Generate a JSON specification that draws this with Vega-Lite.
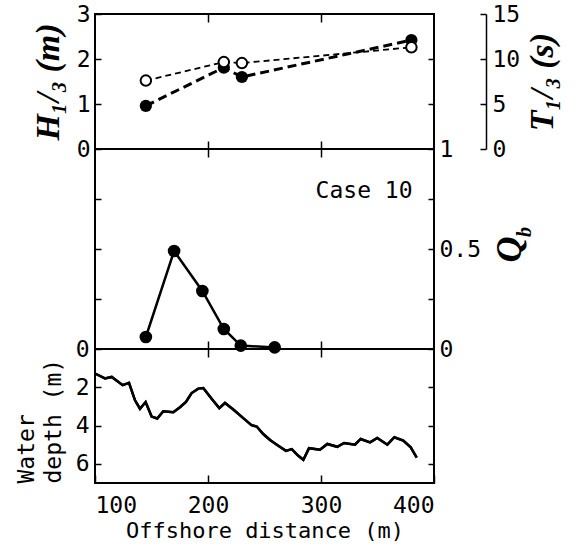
{
  "$schema": "https://vega.github.io/schema/vega-lite/v6.json",
  "background": "white",
  "padding": {"left": 14, "top": 2, "right": 5, "bottom": 5},
  "spacing": 0,
  "bounds": "flush",
  "datasets": {
    "waves": [
      {"distance": 145, "H": 0.96, "T": 7.6},
      {"distance": 214, "H": 1.81, "T": 9.66},
      {"distance": 230, "H": 1.6, "T": 9.55},
      {"distance": 380, "H": 2.42, "T": 11.3}
    ],
    "breaking": [
      {"distance": 145, "Qb": 0.06},
      {"distance": 170, "Qb": 0.49},
      {"distance": 195, "Qb": 0.29},
      {"distance": 214, "Qb": 0.1},
      {"distance": 229, "Qb": 0.017},
      {"distance": 259, "Qb": 0.008}
    ],
    "profile": [
      {"distance": 100, "depth": 1.28},
      {"distance": 108.8, "depth": 1.54},
      {"distance": 114.8, "depth": 1.46},
      {"distance": 124.5, "depth": 1.89},
      {"distance": 130.1, "depth": 1.77},
      {"distance": 135.4, "depth": 2.68},
      {"distance": 139.8, "depth": 3.12},
      {"distance": 144.8, "depth": 2.77},
      {"distance": 150.1, "depth": 3.53},
      {"distance": 155.1, "depth": 3.63},
      {"distance": 160.4, "depth": 3.25},
      {"distance": 169.3, "depth": 3.3},
      {"distance": 175.2, "depth": 3.04},
      {"distance": 180.5, "depth": 2.77},
      {"distance": 185.5, "depth": 2.3},
      {"distance": 191.4, "depth": 2.07},
      {"distance": 195.8, "depth": 2.04},
      {"distance": 203.2, "depth": 2.6},
      {"distance": 210.0, "depth": 3.09},
      {"distance": 215.0, "depth": 2.82},
      {"distance": 222.4, "depth": 3.16},
      {"distance": 231.2, "depth": 3.61},
      {"distance": 238.5, "depth": 3.98},
      {"distance": 243.1, "depth": 4.05},
      {"distance": 248.9, "depth": 4.44},
      {"distance": 254.9, "depth": 4.75},
      {"distance": 262.2, "depth": 5.05},
      {"distance": 269.0, "depth": 5.32},
      {"distance": 274.1, "depth": 5.23},
      {"distance": 279.9, "depth": 5.58},
      {"distance": 284.4, "depth": 5.79},
      {"distance": 289.4, "depth": 5.18},
      {"distance": 299.1, "depth": 5.26},
      {"distance": 305.6, "depth": 4.96},
      {"distance": 314.4, "depth": 5.11},
      {"distance": 320.4, "depth": 4.91},
      {"distance": 330.1, "depth": 5.0},
      {"distance": 335.1, "depth": 4.7},
      {"distance": 343.4, "depth": 4.88},
      {"distance": 349.8, "depth": 4.65},
      {"distance": 358.7, "depth": 5.0},
      {"distance": 364.9, "depth": 4.61},
      {"distance": 372.8, "depth": 4.79},
      {"distance": 379.4, "depth": 5.14},
      {"distance": 384.7, "depth": 5.67}
    ]
  },
  "config": {
    "view": {"stroke": "black", "strokeWidth": 2},
    "axis": {
      "domain": false,
      "grid": false,
      "labelFont": "DejaVu Sans Mono",
      "labelFontSize": 23,
      "labelColor": "black",
      "labelPadding": 12,
      "tickColor": "black",
      "tickWidth": 1.5,
      "titleFont": "DejaVu Sans Mono",
      "titleFontSize": 22,
      "titleFontWeight": "normal",
      "titleColor": "black"
    }
  },
  "vconcat": [
    {
      "width": 339,
      "height": 135,
      "data": {"name": "waves"},
      "resolve": {"scale": {"y": "independent"}, "axis": {"x": "independent", "y": "independent"}},
      "layer": [
        {
          "mark": {"type": "line", "color": "black", "strokeWidth": 3, "strokeDash": [9, 5]},
          "encoding": {
            "x": {"field": "distance", "type": "quantitative", "scale": {"domain": [100, 400]},
                  "axis": {"orient": "bottom", "values": [200, 300], "labels": false, "tickSize": -8, "title": null}},
            "y": {"field": "H", "type": "quantitative", "scale": {"domain": [0, 3]},
                  "axis": {"orient": "left", "values": [0, 1, 2, 3], "tickSize": -6, "labelPadding": 11,
                           "title": "H₁/₃ (m)",
                           "titleFont": "Liberation Serif", "titleFontSize": 34, "titleFontStyle": "italic",
                           "titleFontWeight": "bold", "titlePadding": 11}}
          }
        },
        {
          "mark": {"type": "point", "shape": "circle", "filled": true, "color": "black", "size": 150, "opacity": 1},
          "encoding": {
            "x": {"field": "distance", "type": "quantitative", "scale": {"domain": [100, 400]},
                  "axis": {"orient": "top", "values": [200, 300], "labels": false, "tickSize": -8, "title": null}},
            "y": {"field": "H", "type": "quantitative", "scale": {"domain": [0, 3]},
                  "axis": {"orient": "right", "values": [1, 2], "labels": false, "tickSize": -6, "title": null}}
          }
        },
        {
          "mark": {"type": "line", "color": "black", "strokeWidth": 1.8, "strokeDash": [6, 4]},
          "encoding": {
            "x": {"field": "distance", "type": "quantitative", "scale": {"domain": [100, 400]}, "axis": null},
            "y": {"field": "T", "type": "quantitative", "scale": {"domain": [0, 15]},
                  "axis": {"orient": "right", "offset": 52, "domain": true, "domainColor": "black", "domainWidth": 1.5,
                           "values": [0, 5, 10, 15], "tickSize": -6, "labelPadding": 12,
                           "title": "T₁/₃ (s)", "titleAngle": 270, "titleBaseline": "top",
                           "titleFont": "Liberation Serif", "titleFontSize": 34, "titleFontStyle": "italic",
                           "titleFontWeight": "bold", "titlePadding": 6}}
          }
        },
        {
          "mark": {"type": "point", "shape": "circle", "filled": true, "fill": "white", "stroke": "black", "strokeWidth": 2, "size": 110, "opacity": 1},
          "encoding": {
            "x": {"field": "distance", "type": "quantitative", "scale": {"domain": [100, 400]}, "axis": null},
            "y": {"field": "T", "type": "quantitative", "scale": {"domain": [0, 15]}, "axis": null}
          }
        }
      ]
    },
    {
      "width": 339,
      "height": 200,
      "resolve": {"axis": {"x": "independent", "y": "independent"}},
      "layer": [
        {
          "data": {"name": "breaking"},
          "mark": {"type": "line", "color": "black", "strokeWidth": 2.5},
          "encoding": {
            "x": {"field": "distance", "type": "quantitative", "scale": {"domain": [100, 400]},
                  "axis": {"orient": "top", "values": [200, 300], "labels": false, "tickSize": -8, "title": null}},
            "y": {"field": "Qb", "type": "quantitative", "scale": {"domain": [0, 1]},
                  "axis": {"orient": "left", "values": [0.25, 0.5, 0.75], "labels": false, "tickSize": -6, "title": null}}
          }
        },
        {
          "data": {"name": "breaking"},
          "mark": {"type": "point", "shape": "circle", "filled": true, "color": "black", "size": 160, "opacity": 1},
          "encoding": {
            "x": {"field": "distance", "type": "quantitative", "scale": {"domain": [100, 400]},
                  "axis": {"orient": "bottom", "values": [200, 300], "labels": false, "tickSize": -8, "title": null}},
            "y": {"field": "Qb", "type": "quantitative", "scale": {"domain": [0, 1]},
                  "axis": {"orient": "right", "values": [0, 0.25, 0.5, 0.75, 1], "tickSize": -6, "labelPadding": 11,
                           "labelExpr": "datum.value == 0.5 ? '0.5' : datum.value == 1 ? '1' : datum.value == 0 ? '0' : ''",
                           "title": "Q", "titleAngle": 270, "titleBaseline": "top",
                           "titleFont": "Liberation Serif", "titleFontSize": 36, "titleFontStyle": "italic",
                           "titleFontWeight": "bold", "titlePadding": 12}}
          }
        },
        {
          "data": {"values": [{"label": "Case 10"}]},
          "mark": {"type": "text", "align": "right", "baseline": "middle", "font": "DejaVu Sans Mono", "fontSize": 23, "color": "black"},
          "encoding": {
            "x": {"datum": 381, "type": "quantitative", "axis": null},
            "y": {"datum": 0.79, "type": "quantitative", "axis": null},
            "text": {"field": "label"}
          }
        },
        {
          "data": {"values": [{}]},
          "mark": {"type": "text", "text": "b", "angle": 270, "align": "center", "baseline": "middle", "dy": 91,
                   "font": "Liberation Serif", "fontSize": 20, "fontStyle": "italic", "fontWeight": "bold", "color": "black"},
          "encoding": {
            "x": {"datum": 400, "type": "quantitative", "axis": null},
            "y": {"datum": 0.585, "type": "quantitative", "axis": null}
          }
        }
      ]
    },
    {
      "width": 339,
      "height": 134,
      "data": {"name": "profile"},
      "resolve": {"axis": {"x": "independent", "y": "independent"}},
      "layer": [
        {
          "mark": {"type": "line", "color": "black", "strokeWidth": 2.5},
          "encoding": {
            "x": {"field": "distance", "type": "quantitative", "scale": {"domain": [100, 400]},
                  "axis": {"orient": "bottom", "values": [100, 200, 300, 400], "tickSize": -8, "labelPadding": 19,
                           "title": "Offshore distance (m)", "titlePadding": 3}},
            "y": {"field": "depth", "type": "quantitative", "scale": {"domain": [0, 7], "reverse": true},
                  "axis": {"orient": "left", "values": [0, 2, 4, 6], "tickSize": -6, "labelPadding": 12,
                           "title": ["Water", "depth (m)"], "titleAnchor": "end", "titleAlign": "left",
                           "titleFontSize": 23, "titleLineHeight": 27, "titlePadding": 10}}
          }
        },
        {
          "mark": {"type": "line", "color": "black", "strokeWidth": 2.5},
          "encoding": {
            "x": {"field": "distance", "type": "quantitative", "scale": {"domain": [100, 400]},
                  "axis": {"orient": "top", "values": [200, 300], "labels": false, "tickSize": -8, "title": null}},
            "y": {"field": "depth", "type": "quantitative", "scale": {"domain": [0, 7], "reverse": true},
                  "axis": {"orient": "right", "values": [2, 4, 6], "labels": false, "tickSize": -6, "title": null}}
          }
        }
      ]
    }
  ]
}
